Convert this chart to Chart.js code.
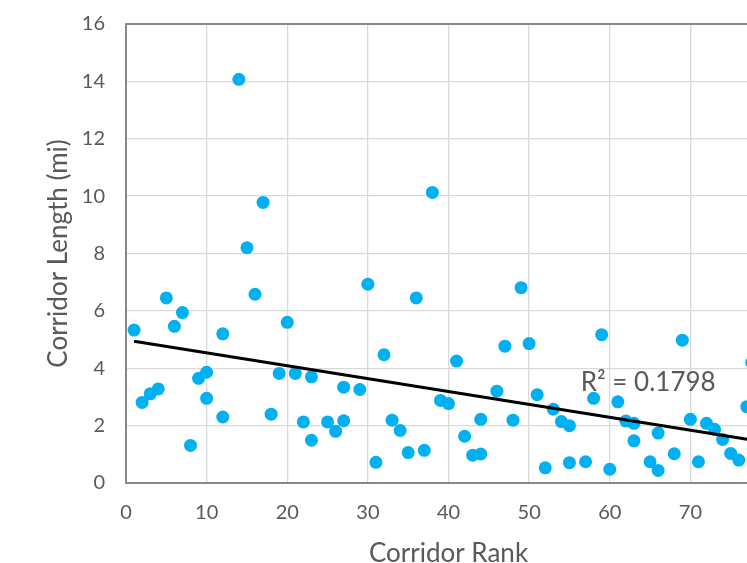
<!DOCTYPE html>
<html>
<head>
<meta charset="utf-8">
<script src="https://cdn.jsdelivr.net/npm/chart.js@4.4.1/dist/chart.umd.min.js"></script>
<style>
    html, body { margin: 0; padding: 0; background: #fff; overflow: hidden; }
    #wrap { width: 800px; height: 563px; }
</style>
</head>
<body>
<div id="wrap"><canvas id="rankChart" width="800" height="563"></canvas></div>
<script>
// Corridor rank vs corridor length (mi)
const corridorRank = [
    1, 2, 3, 4, 5, 6, 7, 8, 9, 10, 10, 12, 12, 14, 15, 16, 17, 18, 19, 20,
    21, 22, 23, 23, 25, 26, 27, 27, 29, 30, 31, 32, 33, 34, 35, 36, 37, 38, 39, 40,
    41, 42, 43, 44, 44, 46, 47, 48, 49, 50, 51, 52, 53, 54, 55, 55, 57, 58, 59, 60,
    61, 62, 63, 63, 65, 66, 66, 68, 69, 70, 71, 72, 73, 74, 75, 76, 77, 77.6
];
const corridorLength = [
    5.33, 2.81, 3.11, 3.28, 6.45, 5.46, 5.94, 1.31, 3.65, 3.86, 2.95, 5.20, 2.30, 14.07, 8.20, 6.58, 9.78, 2.40, 3.82, 5.60,
    3.82, 2.13, 3.70, 1.49, 2.13, 1.80, 3.34, 2.17, 3.26, 6.93, 0.72, 4.47, 2.19, 1.83, 1.06, 6.45, 1.14, 10.13, 2.88, 2.77,
    4.25, 1.63, 0.97, 1.01, 2.22, 3.20, 4.77, 2.19, 6.81, 4.86, 3.08, 0.53, 2.57, 2.14, 2.00, 0.71, 0.74, 2.95, 5.17, 0.48,
    2.83, 2.16, 2.08, 1.47, 0.74, 1.74, 0.44, 1.02, 4.98, 2.22, 0.74, 2.08, 1.87, 1.52, 1.03, 0.80, 2.66, 4.20
];

// linear trendline end points
const trendX = [1, 78];
const trendY = [4.94, 1.48];
const rSquaredLabel = 'R² = 0.1798';

const xTicks = [0, 10, 20, 30, 40, 50, 60, 70, 80];
const yTicks = [0, 2, 4, 6, 8, 10, 12, 14, 16];

const textColor = '#595959';
const fontFamily = 'Lato, "Open Sans", sans-serif';

const rSquaredPlugin = {
    id: 'rSquared',
    afterDatasetsDraw(chart) {
        const { ctx, scales: { x, y } } = chart;
        ctx.save();
        ctx.font = '26px ' + fontFamily;
        ctx.fillStyle = textColor;
        ctx.textAlign = 'left';
        ctx.textBaseline = 'alphabetic';
        ctx.fillText(rSquaredLabel, x.getPixelForValue(56.4), y.getPixelForValue(3.21));
        ctx.restore();
    }
};

const ctx = document.getElementById('rankChart');
new Chart(ctx, {
    type: 'scatter',
    data: {
        datasets: [
            {
                label: 'Linear (Corridor Length)',
                data: trendX.map((v, i) => ({ x: v, y: trendY[i] })),
                showLine: true,
                borderColor: '#000000',
                borderWidth: 3,
                pointRadius: 0,
                order: 0
            },
            {
                label: 'Corridor Length',
                data: corridorRank.map((v, i) => ({ x: v, y: corridorLength[i] })),
                backgroundColor: '#00B0F0',
                borderWidth: 0,
                pointRadius: 6.5,
                pointHoverRadius: 6.5,
                order: 1
            }
        ]
    },
    options: {
        responsive: false,
        animation: false,
        events: [],
        layout: {
            padding: { top: 24, right: 29, bottom: 0, left: 0 }
        },
        plugins: {
            legend: { display: false },
            tooltip: { enabled: false }
        },
        scales: {
            x: {
                type: 'linear',
                min: 0,
                max: 80,
                afterBuildTicks: (scale) => { scale.ticks = xTicks.map(v => ({ value: v })); },
                afterFit: (scale) => {
                    scale.height = 80;
                    scale.paddingLeft = 0;
                    scale.paddingRight = 0;
                },
                ticks: {
                    color: textColor,
                    font: { family: fontFamily, size: 20 },
                    padding: 18,
                    maxRotation: 0
                },
                grid: {
                    drawTicks: false,
                    color: (c) => c.tick && c.tick.value === 0 ? 'rgba(0,0,0,0)' : '#D9D9D9',
                    lineWidth: 1.3
                },
                border: { display: true, color: '#888888', width: 2 },
                title: {
                    display: true,
                    text: 'Corridor Rank',
                    color: textColor,
                    font: { family: fontFamily, size: 26, lineHeight: 0.75 },
                    padding: { top: 0, bottom: 0 }
                }
            },
            y: {
                min: 0,
                max: 16,
                afterBuildTicks: (scale) => { scale.ticks = yTicks.map(v => ({ value: v })); },
                afterFit: (scale) => {
                    scale.width = 126;
                    scale.paddingTop = 0;
                    scale.paddingBottom = 0;
                },
                ticks: {
                    color: textColor,
                    font: { family: fontFamily, size: 20 },
                    padding: 21
                },
                grid: {
                    drawTicks: false,
                    color: (c) => {
                        if (!c.tick) return '#D9D9D9';
                        if (c.tick.value === 0) return 'rgba(0,0,0,0)';
                        if (c.tick.value === 16) return '#888888';
                        return '#D9D9D9';
                    },
                    lineWidth: (c) => c.tick && c.tick.value === 16 ? 2 : 1.3
                },
                border: { display: true, color: '#888888', width: 2 },
                title: {
                    display: true,
                    text: 'Corridor Length (mi)',
                    color: textColor,
                    font: { family: fontFamily, size: 26, lineHeight: 1.2 },
                    padding: { top: 43, bottom: 0 }
                }
            }
        }
    },
    plugins: [rSquaredPlugin]
});
</script>
</body>
</html>
